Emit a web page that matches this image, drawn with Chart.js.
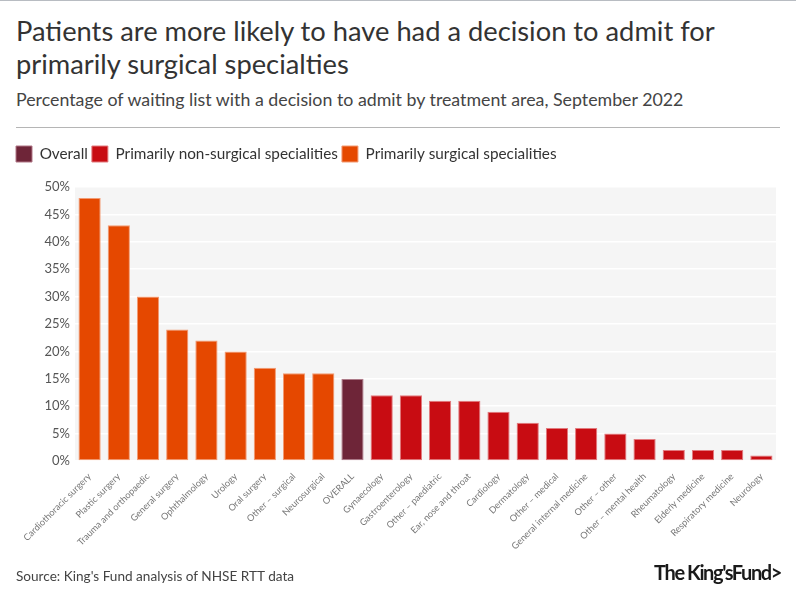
<!DOCTYPE html>
<html>
<head>
<meta charset="utf-8">
<script src="https://cdn.jsdelivr.net/npm/chart.js@4"></script>
<style>
  html, body { margin: 0; padding: 0; background: #fff; }
  body { width: 796px; height: 600px; position: relative; overflow: hidden; font-family: Lato, "Noto Sans", sans-serif; color: #333; }
  .topline { position: absolute; left: 0; top: 0; width: 796px; height: 1px; background: #b8bcc2; }
  h1 { position: absolute; left: 16px; top: 14px; margin: 0; font-size: 27.3px; font-weight: 400; line-height: 33px; color: #333; width: 770px; }
  .sub { position: absolute; left: 16px; top: 88px; font-size: 17.8px; color: #444; }
  .rule { position: absolute; left: 16px; top: 127px; width: 764px; height: 1px; background: #b5b5b5; }
  .wrap { position: absolute; left: 0; top: 135px; width: 796px; height: 440px; }
  .src { position: absolute; left: 16px; top: 568px; font-size: 13.6px; color: #444; }
  .logo { position: absolute; right: 15px; top: 560px; font-size: 20px; font-weight: 700; color: #1a1a1a; letter-spacing: -1.4px; }
</style>
</head>
<body>
<div class="topline"></div>
<h1>Patients are more likely to have had a decision to admit for primarily surgical specialties</h1>
<div class="sub">Percentage of waiting list with a decision to admit by treatment area, September 2022</div>
<div class="rule"></div>
<div class="wrap"><canvas id="cv" width="796" height="440"></canvas></div>
<div class="src">Source: King's Fund analysis of NHSE RTT data</div>
<div class="logo">The King'sFund&gt;</div>
<script>
// values, % of waiting list
const categories = [
  'Cardiothoracic surgery', 'Plastic surgery', 'Trauma and orthopaedic', 'General surgery',
  'Ophthalmology', 'Urology', 'Oral surgery', 'Other \u2013 surgical', 'Neurosurgical', 'OVERALL',
  'Gynaecology', 'Gastroenterology', 'Other \u2013 paediatric', 'Ear, nose and throat', 'Cardiology',
  'Dermatology', 'Other \u2013 medical', 'General internal medicine', 'Other \u2013 other',
  'Other \u2013 mental health', 'Rheumatology', 'Elderly medicine', 'Respiratory medicine', 'Neurology'
];
const values = [48, 43, 30, 24, 22, 20, 17, 16, 16, 15, 12, 12, 11, 11, 9, 7, 6, 6, 5, 4, 2, 2, 2, 1];
// 0 = overall, 1 = non-surgical, 2 = surgical
const groupOf = [2, 2, 2, 2, 2, 2, 2, 2, 2, 0, 1, 1, 1, 1, 1, 1, 1, 1, 1, 1, 1, 1, 1, 1];
const groupNames = ['Overall', 'Primarily non-surgical specialities', 'Primarily surgical specialities'];
const groupColors = ['#6e2538', '#c80c12', '#e54800'];
const groupBorders = ['#b07786', '#e27a7e', '#f29a72'];
const yTicks = [0, 5, 10, 15, 20, 25, 30, 35, 40, 45, 50];

const FONT = 'Lato, "Noto Sans", sans-serif';

const datasets = groupNames.map((name, g) => ({
  label: name,
  data: values.map((v, i) => (groupOf[i] === g ? v : null)),
  backgroundColor: groupColors[g],
  borderColor: groupBorders[g],
  borderWidth: 1,
  borderSkipped: false,
  barPercentage: 0.76,
  categoryPercentage: 1,
  grouped: false,
}));

// grey plot background
const plotBg = {
  id: 'plotBg',
  beforeDraw(chart) {
    const a = chart.chartArea, c = chart.ctx;
    c.save();
    c.fillStyle = '#f5f5f5';
    c.fillRect(a.left, a.top, a.right - a.left, a.bottom - a.top);
    c.restore();
  }
};

// extra gap under the legend
const legendGap = {
  id: 'legendGap',
  beforeInit(chart) {
    const fit = chart.legend.fit;
    chart.legend.fit = function () { fit.call(this); this.height += 15; };
  }
};

new Chart(document.getElementById('cv'), {
  type: 'bar',
  data: { labels: categories, datasets },
  plugins: [plotBg, legendGap],
  options: {
    responsive: false,
    animation: false,
    layout: { padding: { left: 12, right: 20, top: 7, bottom: 0 } },
    plugins: {
      legend: {
        position: 'top',
        align: 'start',
        labels: {
          boxWidth: 16, boxHeight: 16, padding: 4, color: '#333',
          font: { family: FONT, size: 15.3 },
        },
      },
      tooltip: { enabled: false },
    },
    scales: {
      x: {
        grid: { display: false },
        border: { display: false },
        ticks: {
          autoSkip: false, maxRotation: 45, minRotation: 45, padding: 2,
          color: '#777', font: { family: FONT, size: 9.2 },
        },
        afterFit(s) { s.height = 114; },
      },
      y: {
        min: 0, max: 50,
        grid: { color: '#ffffff', lineWidth: 1.5, drawTicks: false },
        border: { display: false },
        afterBuildTicks(s) { s.ticks = yTicks.map((v) => ({ value: v })); },
        ticks: {
          padding: 5, color: '#555',
          font: { family: FONT, size: 13 },
          callback: (v) => v + '%',
        },
        afterFit(s) { s.width = 63; },
      },
    },
  },
});
</script>
</body>
</html>
